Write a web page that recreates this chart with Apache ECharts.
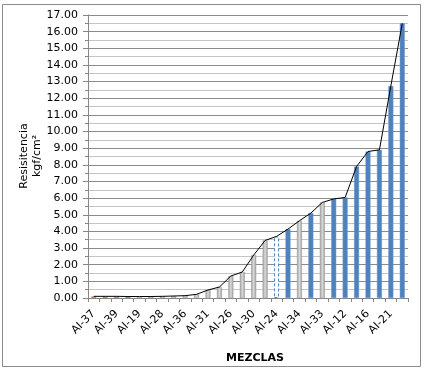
<!DOCTYPE html>
<html>
<head>
<meta charset="utf-8">
<script src="https://cdn.jsdelivr.net/npm/echarts@6/dist/echarts.min.js"></script>
<style>
html,body{margin:0;padding:0;background:#fff;}
#chart{width:424px;height:369px;}
</style>
</head>
<body>
<div id="chart"></div>
<script>
// Categories (only every other label is visible in the reference)
var categories = ['AI-37','AI-38','AI-39','AI-40','AI-19','AI-20','AI-28','AI-29','AI-36','AI-35',
                  'AI-31','AI-32','AI-26','AI-27','AI-30','AI-25','AI-24','AI-23','AI-34','AI-22',
                  'AI-33','AI-11','AI-12','AI-13','AI-16','AI-17','AI-21','AI-18'];
// Resistencia (kgf/cm²)
var resistencia = [0.10,0.10,0.10,0.09,0.09,0.09,0.10,0.12,0.14,0.22,
                   0.48,0.66,1.32,1.56,2.58,3.46,3.70,4.14,4.64,5.10,
                   5.74,5.95,6.04,7.90,8.80,8.90,12.74,16.50];
// Group of each mix: 'O' (small early), 'G' (grey), 'B' (blue), 'D' (hollow dashed)
var grupo = ['O','O','O','B','G','G','G','G','G','G',
             'G','G','G','G','G','G','D','B','G','B',
             'G','B','B','B','B','B','B','B'];
var yTicks = {min: 0, max: 17, interval: 1};
var yTitle = 'Resisitencia\nkgf/cm²';
var xTitle = 'MEZCLAS';

var chart = echarts.init(document.getElementById('chart'), null, {renderer: 'canvas'});
var FONT = 'DejaVu Sans';
var greyGrad = new echarts.graphic.LinearGradient(0, 0, 1, 0, [
  {offset: 0, color: '#9a9a9a'}, {offset: 0.5, color: '#dadada'}, {offset: 1, color: '#9a9a9a'}
]);
var blue = '#4F81BD';

function styleFor(g) {
  if (g === 'B') return {color: blue, borderColor: '#6f99cc', borderWidth: 0.5};
  if (g === 'G') return {color: greyGrad, borderColor: '#9a9a9a', borderWidth: 0.5};
  if (g === 'D') return {color: '#ffffff', borderColor: blue, borderWidth: 1, borderType: [3, 2]};
  return {color: '#b59a5e'};
}

var barData = resistencia.map(function (v, i) {
  return {value: v, itemStyle: styleFor(grupo[i])};
});

chart.setOption({
  animation: false,
  backgroundColor: '#ffffff',
  textStyle: {fontFamily: FONT},
  grid: {left: 88, right: 16, top: 15, bottom: 71, containLabel: false},
  xAxis: {
    type: 'category',
    data: categories,
    boundaryGap: true,
    axisLine: {show: true, lineStyle: {color: '#868686', width: 1}},
    axisTick: {show: true, interval: 0, length: 4, lineStyle: {color: '#868686'}},
    axisLabel: {interval: 1, rotate: 45, fontSize: 11, color: '#000', fontFamily: FONT, margin: 14}
  },
  yAxis: {
    type: 'value',
    min: yTicks.min, max: yTicks.max, interval: yTicks.interval,
    axisLine: {show: true, lineStyle: {color: '#868686', width: 1}},
    axisTick: {show: true, length: 5, lineStyle: {color: '#868686'}},
    minorTick: {show: true, splitNumber: 2, length: 3, lineStyle: {color: '#868686'}},
    axisLabel: {fontSize: 11, color: '#000', fontFamily: FONT, margin: 10,
      formatter: function (v) { return v.toFixed(2); }},
    splitLine: {show: true, lineStyle: {color: '#8a8a8a', width: 1}},
    minorSplitLine: {show: true, lineStyle: {color: '#c4c4c4', width: 1}}
  },
  graphic: [
    {type: 'rect', shape: {x: 2.5, y: 4.5, width: 418, height: 362}, silent: true, z: -10,
     style: {fill: null, stroke: '#8c8c8c', lineWidth: 1}},
    {type: 'text', x: 31, y: 156, rotation: Math.PI / 2,
     style: {text: yTitle, font: '11px "DejaVu Sans"', lineHeight: 13,
      fill: '#000', align: 'center', verticalAlign: 'middle'}},
    {type: 'text', x: 255, y: 358, style: {text: xTitle, font: 'bold 11px "DejaVu Sans"',
      fill: '#000', align: 'center', verticalAlign: 'middle'}}
  ],
  series: [
    {type: 'bar', data: barData, barWidth: 5, z: 2},
    {type: 'line', data: resistencia, symbol: 'none', z: 3,
     lineStyle: {color: '#000', width: 1}}
  ]
});
</script>
</body>
</html>
